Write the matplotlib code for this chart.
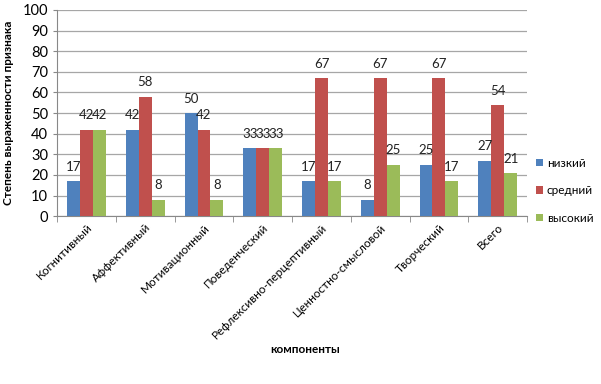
import matplotlib
matplotlib.use("Agg")
import matplotlib.pyplot as plt
import numpy as np

categories = ["Когнитивный", "Аффективный", "Мотивационный", "Поведенческий",
              "Рефлексивно-перцептивный", "Ценностно-смысловой", "Творческий", "Всего"]
low = [17, 42, 50, 33, 17, 8, 25, 27]
mid = [42, 58, 42, 33, 67, 67, 67, 54]
high = [42, 8, 8, 33, 17, 25, 17, 21]
series_names = ["низкий", "средний", "высокий"]
colors = ["#4F81BD", "#C0504D", "#9BBB59"]
yticks = list(range(0, 101, 10))

plt.rcParams['font.family'] = ['Lato', 'DejaVu Sans']
fig = plt.figure(figsize=(6.01, 3.84), dpi=100)
ax = fig.add_axes([0.095, 0.437, 0.782, 0.537])

x = np.arange(len(categories))
w = 0.22
for i, (vals, name, c) in enumerate(zip([low, mid, high], series_names, colors)):
    pos = x + (i - 1) * w
    ax.bar(pos, vals, w, color=c, label=name, zorder=3)
    for p, v in zip(pos, vals):
        ax.text(p, v + 4, str(v), ha='center', va='bottom', fontsize=9.5, color='#222222', zorder=4)

ax.set_xlim(-0.5, len(categories) - 0.5)
ax.set_ylim(0, 100)
ax.set_yticks(yticks)
ax.tick_params(axis='y', labelsize=10.5, length=3, color='#888888')
ax.yaxis.grid(True, color='#A6A6A6', linewidth=0.9, zorder=0)
ax.set_axisbelow(True)
for s in ['top', 'right']:
    ax.spines[s].set_visible(False)
ax.spines['left'].set_color('#888888')
ax.spines['bottom'].set_color('#888888')

ax.set_xticks(x)
ax.set_xticklabels(categories, rotation=45, ha='right', rotation_mode='anchor', fontsize=8.5)
ax.tick_params(axis='x', length=0, pad=4)
ax.set_xticks(np.arange(-0.5, len(categories), 1), minor=True)
ax.tick_params(axis='x', which='minor', length=4, color='#888888')

ax.set_ylabel("Степень выраженности признака", fontsize=8.5, fontweight='bold', labelpad=6)
fig.text(0.508, 0.09, "компоненты", ha='center', va='center', fontsize=8.5, fontweight='bold')

leg = fig.legend(loc='center left', bbox_to_anchor=(0.892, 0.503), frameon=False,
                 fontsize=8.5, handlelength=0.6, handleheight=0.6, labelspacing=1.4,
                 handletextpad=0.3, borderaxespad=0, borderpad=0)

fig.savefig("out.png", dpi=100)
